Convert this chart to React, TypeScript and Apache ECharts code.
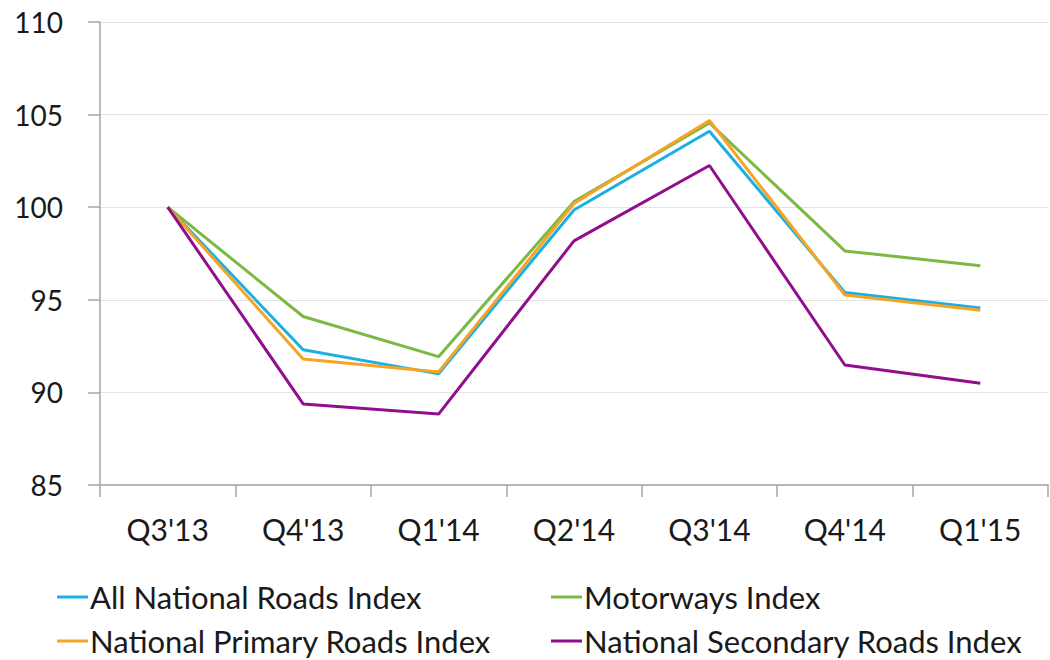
import React, { useEffect, useRef } from "react";
import * as echarts from "echarts";

const categories = ["Q3'13", "Q4'13", "Q1'14", "Q2'14", "Q3'14", "Q4'14", "Q1'15"];
const allNational = [100, 92.3, 91.0, 99.85, 104.1, 95.4, 94.56];
const motorways = [100, 94.1, 91.93, 100.3, 104.55, 97.64, 96.84];
const primary = [100, 91.8, 91.1, 100.2, 104.68, 95.26, 94.43];
const secondary = [100, 89.38, 88.83, 98.18, 102.25, 91.48, 90.49];
const yTicks = [85, 90, 95, 100, 105, 110];

const FONT = "Lato, 'Open Sans', sans-serif";

export default function App() {
  const ref = useRef<HTMLDivElement>(null);
  useEffect(() => {
    if (!ref.current) return;
    const chart = echarts.init(ref.current, undefined, { renderer: "svg" });
    const mk = (name: string, data: number[], color: string) => ({
      name,
      type: "line",
      data,
      symbol: "none",
      lineStyle: { width: 3, color },
      itemStyle: { color },
    });
    const legendText = { fontFamily: FONT, fontSize: 31, color: "#1a1a1a", lineHeight: 32, padding: [0, 0, 0, -3] };
    const lg = (name: string, left: number, top: number) => ({
      left,
      top,
      itemWidth: 31,
      itemHeight: 3,
      icon: "rect",
      padding: 0,
      textStyle: legendText,
      data: [name],
    });
    chart.setOption({
      animation: false,
      backgroundColor: "#ffffff",
      grid: { left: 100, right: 2, top: 22, bottom: 175, containLabel: false },
      xAxis: {
        type: "category",
        data: categories,
        boundaryGap: true,
        axisLine: { lineStyle: { color: "#a6a6a6", width: 1.5 } },
        axisTick: { show: true, length: 12, lineStyle: { color: "#a6a6a6", width: 1.5 } },
        axisLabel: { fontFamily: FONT, fontSize: 30, color: "#1a1a1a", margin: 29 },
      },
      yAxis: {
        type: "value",
        min: yTicks[0],
        max: yTicks[yTicks.length - 1],
        interval: 5,
        axisLine: { show: true, lineStyle: { color: "#a6a6a6", width: 1.5 } },
        axisTick: { show: true, length: 12, lineStyle: { color: "#a6a6a6", width: 1.5 } },
        splitLine: { show: true, lineStyle: { color: "#e3e3e3", width: 1 } },
        axisLabel: { fontFamily: FONT, fontSize: 28, color: "#1a1a1a", margin: 37 },
      },
      legend: [
        lg("All National Roads Index", 57, 581),
        lg("National Primary Roads Index", 57, 625),
        lg("Motorways Index", 551, 581),
        lg("National Secondary Roads Index", 551, 625),
      ],
      series: [
        mk("All National Roads Index", allNational, "#1cb0e2"),
        mk("Motorways Index", motorways, "#7cb843"),
        mk("National Primary Roads Index", primary, "#f5a425"),
        mk("National Secondary Roads Index", secondary, "#910f8c"),
      ],
    });
    return () => chart.dispose();
  }, []);
  return <div ref={ref} style={{ width: 1050, height: 660, position: "absolute", left: 0, top: 0 }} />;
}
